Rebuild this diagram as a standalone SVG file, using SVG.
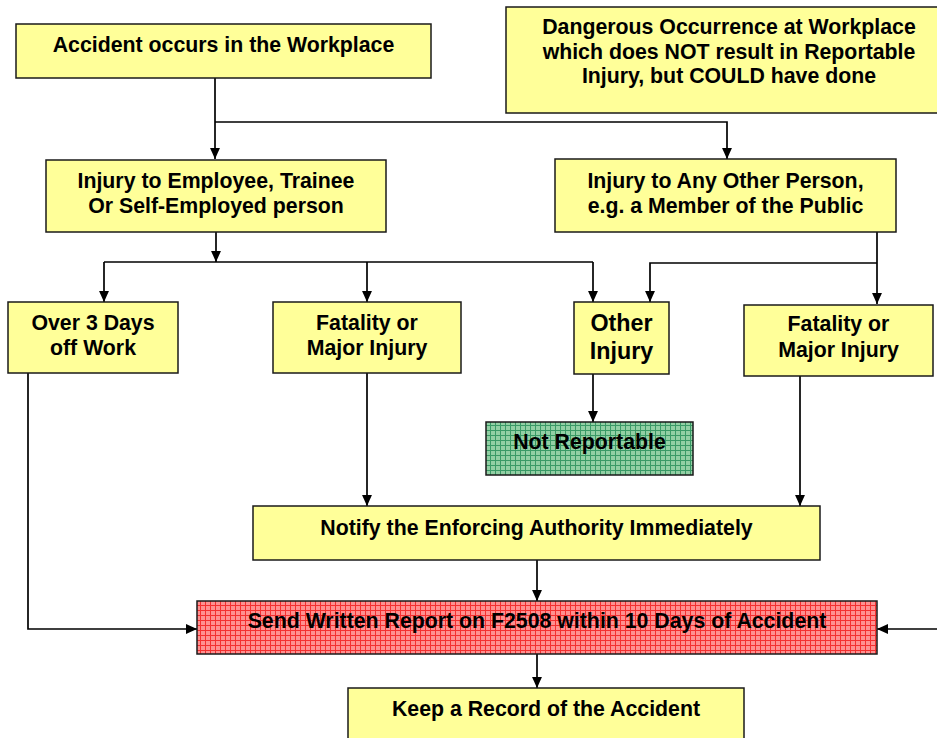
<svg xmlns="http://www.w3.org/2000/svg" width="937" height="738" viewBox="0 0 937 738">
<defs>
<style>
.box{fill:#ffff99;stroke:#1a1a1a;stroke-width:1.5}
.t{font-family:"Liberation Sans",Arial,Helvetica,sans-serif;font-weight:bold;font-size:21.3px;fill:#000;text-anchor:middle}
.big{font-size:23.3px}
.c{fill:none;stroke:#000;stroke-width:1.7}
.a{marker-end:url(#arr)}
</style>
<marker id="arr" viewBox="0 0 10 10" refX="10" refY="5" markerWidth="11" markerHeight="11" markerUnits="userSpaceOnUse" orient="auto">
<path d="M0,0.5 L10,5 L0,9.5 Z" fill="#000"/>
</marker>
<pattern id="gridG" width="5" height="5" patternUnits="userSpaceOnUse">
<rect width="5" height="5" fill="#92d0a4"/>
<path d="M0,0.5 H5 M0.5,0 V5" stroke="#3a9a66" stroke-width="1"/>
</pattern>
<pattern id="gridR" width="5" height="5" patternUnits="userSpaceOnUse">
<rect width="5" height="5" fill="#ff9090"/>
<path d="M0,0.5 H5 M0.5,0 V5" stroke="#f43030" stroke-width="1"/>
</pattern>
</defs>
<rect width="937" height="738" fill="#fff"/>

<g id="connectors">
<path class="c a" d="M215,78 V159"/>
<path class="c a" d="M215,122 H727 V159"/>
<path class="c a" d="M216,232 V262"/>
<path class="c" d="M104,262 H593"/>
<path class="c a" d="M104,262 V302"/>
<path class="c a" d="M367,262 V302"/>
<path class="c a" d="M593,262 V302"/>
<path class="c a" d="M877,232 V304"/>
<path class="c a" d="M877,263 H650 V302"/>
<path class="c a" d="M593,374 V422"/>
<path class="c a" d="M367,373 V506"/>
<path class="c a" d="M800,376 V506"/>
<path class="c a" d="M537,560 V601"/>
<path class="c a" d="M28,373 V629 H197"/>
<path class="c a" d="M940,629 H877"/>
<path class="c a" d="M537,654 V688"/>
</g>

<g id="accident">
<rect class="box" x="16" y="24" width="415" height="54"/>
<text class="t" x="223.5" y="52">Accident occurs in the Workplace</text>
</g>
<g id="dangerous">
<rect class="box" x="506" y="7" width="446" height="106"/>
<text class="t" x="729" y="34">Dangerous Occurrence at Workplace</text>
<text class="t" x="729" y="59">which does NOT result in Reportable</text>
<text class="t" x="729" y="83">Injury, but COULD have done</text>
</g>
<g id="employee">
<rect class="box" x="46" y="160" width="340" height="72"/>
<text class="t" x="216" y="188">Injury to Employee, Trainee</text>
<text class="t" x="216" y="213">Or Self-Employed person</text>
</g>
<g id="otherperson">
<rect class="box" x="555" y="159" width="341" height="73"/>
<text class="t" x="725.5" y="188">Injury to Any Other Person,</text>
<text class="t" x="725.5" y="213">e.g. a Member of the Public</text>
</g>
<g id="over3days">
<rect class="box" x="8" y="302" width="170" height="71"/>
<text class="t" x="93" y="330">Over 3 Days</text>
<text class="t" x="93" y="355">off Work</text>
</g>
<g id="fatality1">
<rect class="box" x="273" y="302" width="188" height="71"/>
<text class="t" x="367" y="330">Fatality or</text>
<text class="t" x="367" y="355">Major Injury</text>
</g>
<g id="otherinjury">
<rect class="box" x="574" y="302" width="95" height="72"/>
<text class="t big" x="621.5" y="331">Other</text>
<text class="t big" x="621.5" y="359">Injury</text>
</g>
<g id="fatality2">
<rect class="box" x="744" y="305" width="189" height="71"/>
<text class="t" x="838.5" y="331">Fatality or</text>
<text class="t" x="838.5" y="357">Major Injury</text>
</g>
<g id="notreportable">
<rect x="486" y="422" width="207" height="53" fill="url(#gridG)" stroke="#1a1a1a" stroke-width="1.5"/>
<text class="t" x="589.5" y="449">Not Reportable</text>
</g>
<g id="notify">
<rect class="box" x="253" y="506" width="567" height="54"/>
<text class="t" x="536.5" y="535">Notify the Enforcing Authority Immediately</text>
</g>
<g id="sendreport">
<rect x="197" y="601" width="680" height="53" fill="url(#gridR)" stroke="#1a1a1a" stroke-width="1.5"/>
<text class="t" x="537" y="628">Send Written Report on F2508 within 10 Days of Accident</text>
</g>
<g id="keeprecord">
<rect class="box" x="348" y="688" width="396" height="60"/>
<text class="t" x="546" y="716">Keep a Record of the Accident</text>
</g>
</svg>
